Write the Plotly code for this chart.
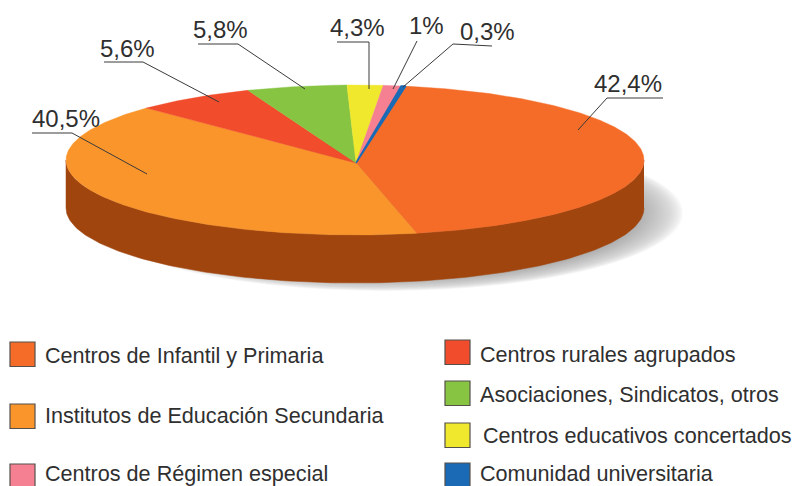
import numpy as np
import plotly.graph_objects as go

# Slices clockwise, starting at the boundary near the top of the disc
categories = ["Centros de Infantil y Primaria", "Institutos de Educación Secundaria",
              "Centros rurales agrupados", "Asociaciones, Sindicatos, otros",
              "Centros educativos concertados", "Centros de Régimen especial",
              "Comunidad universitaria"]
printed_labels = ["42,4%", "40,5%", "5,6%", "5,8%", "4,3%", "1%", "0,3%"]
# Share of the rim each slice occupies as drawn in the picture (%)
drawn_share = [43.8, 40.6, 6.8, 5.6, 2.0, 1.0, 0.25]
colors = ["#f56c28", "#fa952b", "#f14c2b", "#87c441", "#efe82c", "#f58091", "#1b6ab5"]
edge_widths = [0.4, 0.4, 0.4, 0.4, 0.4, 0.4, 1.6]

W, H = 793, 486
CX, CY, RX, RY, DEPTH = 355, 160, 289, 75, 48
APEX = (356, 163)
START_DEG = 10.1
SIDE = "#a1450f"
TEXT = "#2f2f2f"

fig = go.Figure()

def rim(a_deg):
    a = np.radians(a_deg)
    return CX + RX * np.sin(a), CY - RY * np.cos(a)

# Side wall: the visible lower half of the disc
t = np.linspace(90, 270, 181)
xt, yt = rim(t)
fig.add_trace(go.Scatter(
    x=np.r_[xt, xt[::-1]], y=np.r_[yt, yt[::-1] + DEPTH], mode="lines", fill="toself",
    fillcolor=SIDE, line=dict(color=SIDE, width=0.5), hoverinfo="skip", showlegend=False))

# Top face, one wedge per slice, from the shares
edges = START_DEG + np.r_[0, np.cumsum(drawn_share)] / sum(drawn_share) * 360
for i, c in enumerate(colors):
    a = np.linspace(edges[i], edges[i + 1], max(3, int(edges[i + 1] - edges[i]) * 2))
    xs, ys = rim(a)
    fig.add_trace(go.Scatter(
        x=np.r_[APEX[0], xs, APEX[0]], y=np.r_[APEX[1], ys, APEX[1]], mode="lines",
        fill="toself", fillcolor=c, line=dict(color=c, width=edge_widths[i]),
        name=categories[i], hoverinfo="name", showlegend=False))

shapes = []
# Soft drop shadow: many faint layers, denser toward the disc
for k in 1 - 0.2 * np.linspace(0, 1, 30) ** 1.3:
    shapes.append(dict(type="circle", layer="below", xref="x", yref="y",
                       x0=385 - 298 * k, x1=385 + 298 * k, y0=213 - 78 * k, y1=213 + 78 * k,
                       fillcolor="rgba(95,100,108,0.028)", line=dict(width=0)))

# Leader lines
leaders = {
    "42,4%": [(663, 98), (607, 98), (578, 130)],
    "40,5%": [(32, 133), (72, 133), (147, 174)],
    "5,6%": [(104, 62), (143, 62), (219, 102)],
    "5,8%": [(198, 44), (238, 44), (305, 89)],
    "4,3%": [(337, 42), (369, 42), (369, 89)],
    "1%": [(417, 41), (393, 89)],
    "0,3%": [(492, 46), (453, 44), (403, 87)],
}
for pts in leaders.values():
    path = "M" + " L".join(f"{x},{y}" for x, y in pts)
    shapes.append(dict(type="path", path=path, xref="x", yref="y",
                       line=dict(color="#3a3a3a", width=1)))

# Value labels
label_pos = {"42,4%": (628, 83), "40,5%": (65.5, 118), "5,6%": (127, 48), "5,8%": (220.5, 29),
             "4,3%": (357, 27), "1%": (426, 25), "0,3%": (487.5, 31)}
ann = []
for s in printed_labels:
    x, y = label_pos[s]
    ann.append(dict(x=x, y=y, text=s, showarrow=False, xref="x", yref="y", xanchor="center",
                    yanchor="middle", font=dict(size=24, color=TEXT)))

# Hand-placed legend
legend_pos = {
    0: (10, 342, 43, 355), 1: (10, 404, 43, 415), 5: (10, 464, 43, 473.5),
    2: (445, 340, 478, 354), 3: (445, 381, 478, 394), 4: (445, 423, 481, 435), 6: (445, 463, 478, 473),
}
for i, (sx, sy, tx, ty) in legend_pos.items():
    shapes.append(dict(type="rect", xref="x", yref="y", x0=sx, x1=sx + 25, y0=sy, y1=sy + 24.5,
                       fillcolor=colors[i], line=dict(color="#55504c", width=1.2)))
    ann.append(dict(x=tx, y=ty, text=categories[i], showarrow=False, xref="x", yref="y",
                    xanchor="left", yanchor="middle", font=dict(size=21.6, color=TEXT)))

fig.update_layout(
    width=W, height=H, margin=dict(l=0, r=0, t=0, b=0), showlegend=False,
    paper_bgcolor="white", plot_bgcolor="white",
    font=dict(family="Liberation Sans, Arial, sans-serif"),
    xaxis=dict(range=[0, W], visible=False, fixedrange=True),
    yaxis=dict(range=[H, 0], visible=False, fixedrange=True),
    shapes=shapes, annotations=ann,
)
fig.write_html("out.html", config={"displayModeBar": False},
               post_script="document.body.style.margin='0';")
